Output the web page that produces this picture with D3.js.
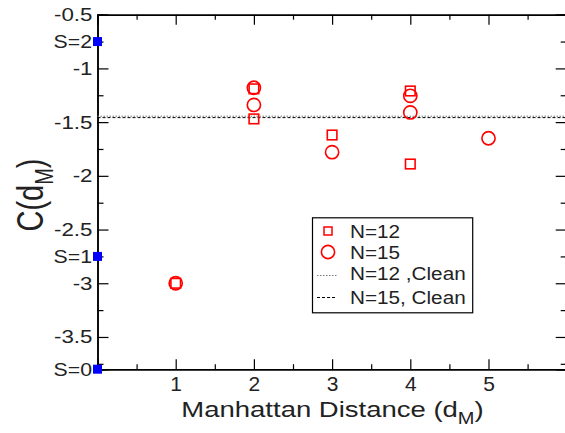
<!DOCTYPE html>
<html><head><meta charset="utf-8">
<script src="https://cdn.jsdelivr.net/npm/d3@7"></script>
<style>
html,body{margin:0;padding:0;background:#fff;}
svg{display:block;font-family:"Liberation Sans",Arial,Helvetica,sans-serif;}
</style></head>
<body><svg id="c" width="565" height="433"></svg>
<script>
// ---- data ----
const n12X = [1, 2, 2, 3, 4, 4];
const n12Y = [-3.0, -1.19, -1.47, -1.62, -1.21, -1.89];
const n15X = [1, 2, 2, 3, 4, 4, 5];
const n15Y = [-3.0, -1.18, -1.34, -1.78, -1.255, -1.41, -1.65];
const clean12 = -1.445;
const clean15 = -1.458;
const sLabels = ["S=0", "S=1", "S=2"];
const sValues = [-3.8, -2.75, -0.75];
const xTicks = [1, 2, 3, 4, 5];
const xTickLabels = ["1", "2", "3", "4", "5"];
const yTicks = [-0.5, -1, -1.5, -2, -2.5, -3, -3.5];
const yTickLabels = ["-0.5", "-1", "-1.5", "-2", "-2.5", "-3", "-3.5"];
const legendLabels = ["N=12", "N=15", "N=12 ,Clean", "N=15, Clean"];

// ---- layout ----
const svg = d3.select("#c");
const L = 97.5, R = 566.7, T = 14.7, B = 369.2;
const x = d3.scaleLinear().domain([0, 6]).range([L, R]);
const y = d3.scaleLinear().domain([-3.8, -0.5]).range([B, T]);
const ink = "#222";
const SX = 1.15; // horizontal stretch of the original figure's text

function stretchTexts(sel, sx) {
  sel.selectAll("text").each(function () {
    const t = d3.select(this);
    const tx = +t.attr("x") || 0;
    t.attr("x", 0).attr("transform", `translate(${tx},0) scale(${sx},1)`);
  });
}

// minor ticks
const xMinor = d3.range(0.5, 6, 1);
const yMinor = d3.range(-0.75, -3.8, -0.5);

// bottom axis
const gB = svg.append("g").attr("transform", `translate(0,${B})`)
  .call(d3.axisBottom(x).tickValues(xTicks).tickSize(-10).tickPadding(7.5)
    .tickFormat((d, i) => xTickLabels[i]));
gB.selectAll("text").attr("font-size", 20).attr("fill", ink);
stretchTexts(gB, 1.05);
svg.append("g").attr("transform", `translate(0,${B})`)
  .call(d3.axisBottom(x).tickValues(xMinor).tickSize(-5).tickFormat(""));

// top axis
svg.append("g").attr("transform", `translate(0,${T})`)
  .call(d3.axisTop(x).tickValues(xTicks).tickSize(-10).tickFormat(""));
svg.append("g").attr("transform", `translate(0,${T})`)
  .call(d3.axisTop(x).tickValues(xMinor).tickSize(-5).tickFormat(""));

// left axis
const gL = svg.append("g").attr("transform", `translate(${L},0)`)
  .call(d3.axisLeft(y).tickValues(yTicks).tickSize(-11).tickPadding(5)
    .tickFormat((d, i) => yTickLabels[i]));
gL.selectAll("text").attr("font-size", 18.5).attr("fill", ink);
stretchTexts(gL, SX * 1.05);
svg.append("g").attr("transform", `translate(${L},0)`)
  .call(d3.axisLeft(y).tickValues(yMinor).tickSize(-6).tickFormat(""));

// right axis
svg.append("g").attr("transform", `translate(${R},0)`)
  .call(d3.axisRight(y).tickValues(yTicks).tickSize(-11).tickFormat(""));
svg.append("g").attr("transform", `translate(${R},0)`)
  .call(d3.axisRight(y).tickValues(yMinor).tickSize(-6).tickFormat(""));

svg.selectAll(".domain").attr("stroke", "#000").attr("stroke-width", 1.5);
svg.selectAll(".tick line").attr("stroke", "#000").attr("stroke-width", 1.2);

// clean reference lines
svg.append("line").attr("x1", L).attr("x2", R)
  .attr("y1", y(clean12)).attr("y2", y(clean12))
  .attr("stroke", "#777").attr("stroke-width", 1).attr("stroke-dasharray", "1.5,1.5");
svg.append("line").attr("x1", L).attr("x2", R)
  .attr("y1", y(clean15)).attr("y2", y(clean15))
  .attr("stroke", "#000").attr("stroke-width", 1).attr("stroke-dasharray", "3,2");

// S markers
const sG = svg.append("g");
sValues.forEach((v, i) => {
  sG.append("rect").attr("x", x(0) - 4.5).attr("y", y(v) - 4.5)
    .attr("width", 9).attr("height", 9).attr("fill", "#0000ff");
  sG.append("g").attr("transform", `translate(92,${y(v)}) scale(${SX},1)`)
    .append("text").attr("text-anchor", "end").attr("dy", "0.36em")
    .attr("font-size", 18.5).attr("fill", ink).text(sLabels[i]);
});

// N=12 squares
svg.append("g").selectAll("rect").data(n12X.map((d, i) => [d, n12Y[i]])).join("rect")
  .attr("x", d => x(d[0]) - 4.8).attr("y", d => y(d[1]) - 4.8)
  .attr("width", 9.6).attr("height", 9.6)
  .attr("fill", "none").attr("stroke", "#ff0000").attr("stroke-width", 1.6);
// N=15 circles
svg.append("g").selectAll("circle").data(n15X.map((d, i) => [d, n15Y[i]])).join("circle")
  .attr("cx", d => x(d[0])).attr("cy", d => y(d[1])).attr("r", 6.6)
  .attr("fill", "none").attr("stroke", "#ff0000").attr("stroke-width", 1.6);

// legend
const lg = svg.append("g");
lg.append("rect").attr("x", 312.5).attr("y", 217.8).attr("width", 160.2).attr("height", 95)
  .attr("fill", "#fff").attr("stroke", "#000").attr("stroke-width", 1.2);
const rowY = [231, 252, 273.5, 297.5];
lg.append("rect").attr("x", 324).attr("y", rowY[0] - 4).attr("width", 8).attr("height", 8)
  .attr("fill", "none").attr("stroke", "#ff0000").attr("stroke-width", 1.5);
lg.append("circle").attr("cx", 328).attr("cy", rowY[1]).attr("r", 6.6)
  .attr("fill", "none").attr("stroke", "#ff0000").attr("stroke-width", 1.6);
lg.append("line").attr("x1", 317).attr("x2", 337).attr("y1", rowY[2] + 2).attr("y2", rowY[2] + 2)
  .attr("stroke", "#777").attr("stroke-dasharray", "1.5,1.5");
lg.append("line").attr("x1", 317).attr("x2", 337).attr("y1", rowY[3]).attr("y2", rowY[3])
  .attr("stroke", "#000").attr("stroke-dasharray", "3,2");
legendLabels.forEach((s, i) => {
  lg.append("g").attr("transform", `translate(350,${rowY[i]}) scale(1.12,1)`)
    .append("text").attr("dy", "0.36em").attr("font-size", 18.5).attr("fill", ink).text(s);
});

// x title
const xt = svg.append("g").attr("transform", `translate(${(178 + 487) / 2},417.3) scale(1.25,1)`)
  .append("text").attr("text-anchor", "middle").attr("font-size", 22).attr("fill", ink);
xt.append("tspan").text("Manhattan Distance (d");
xt.append("tspan").attr("font-size", 16).attr("dy", 7).text("M");
xt.append("tspan").attr("dy", -7).text(")");

// y title
const yt = svg.append("g").attr("transform", `translate(42.5,195) scale(1.3,1) rotate(-90)`)
  .append("text").attr("text-anchor", "middle").attr("font-size", 29).attr("fill", ink);
yt.append("tspan").text("C(d");
yt.append("tspan").attr("font-size", 20).attr("dy", 8).text("M");
yt.append("tspan").attr("dy", -8).text(")");
</script></body></html>
